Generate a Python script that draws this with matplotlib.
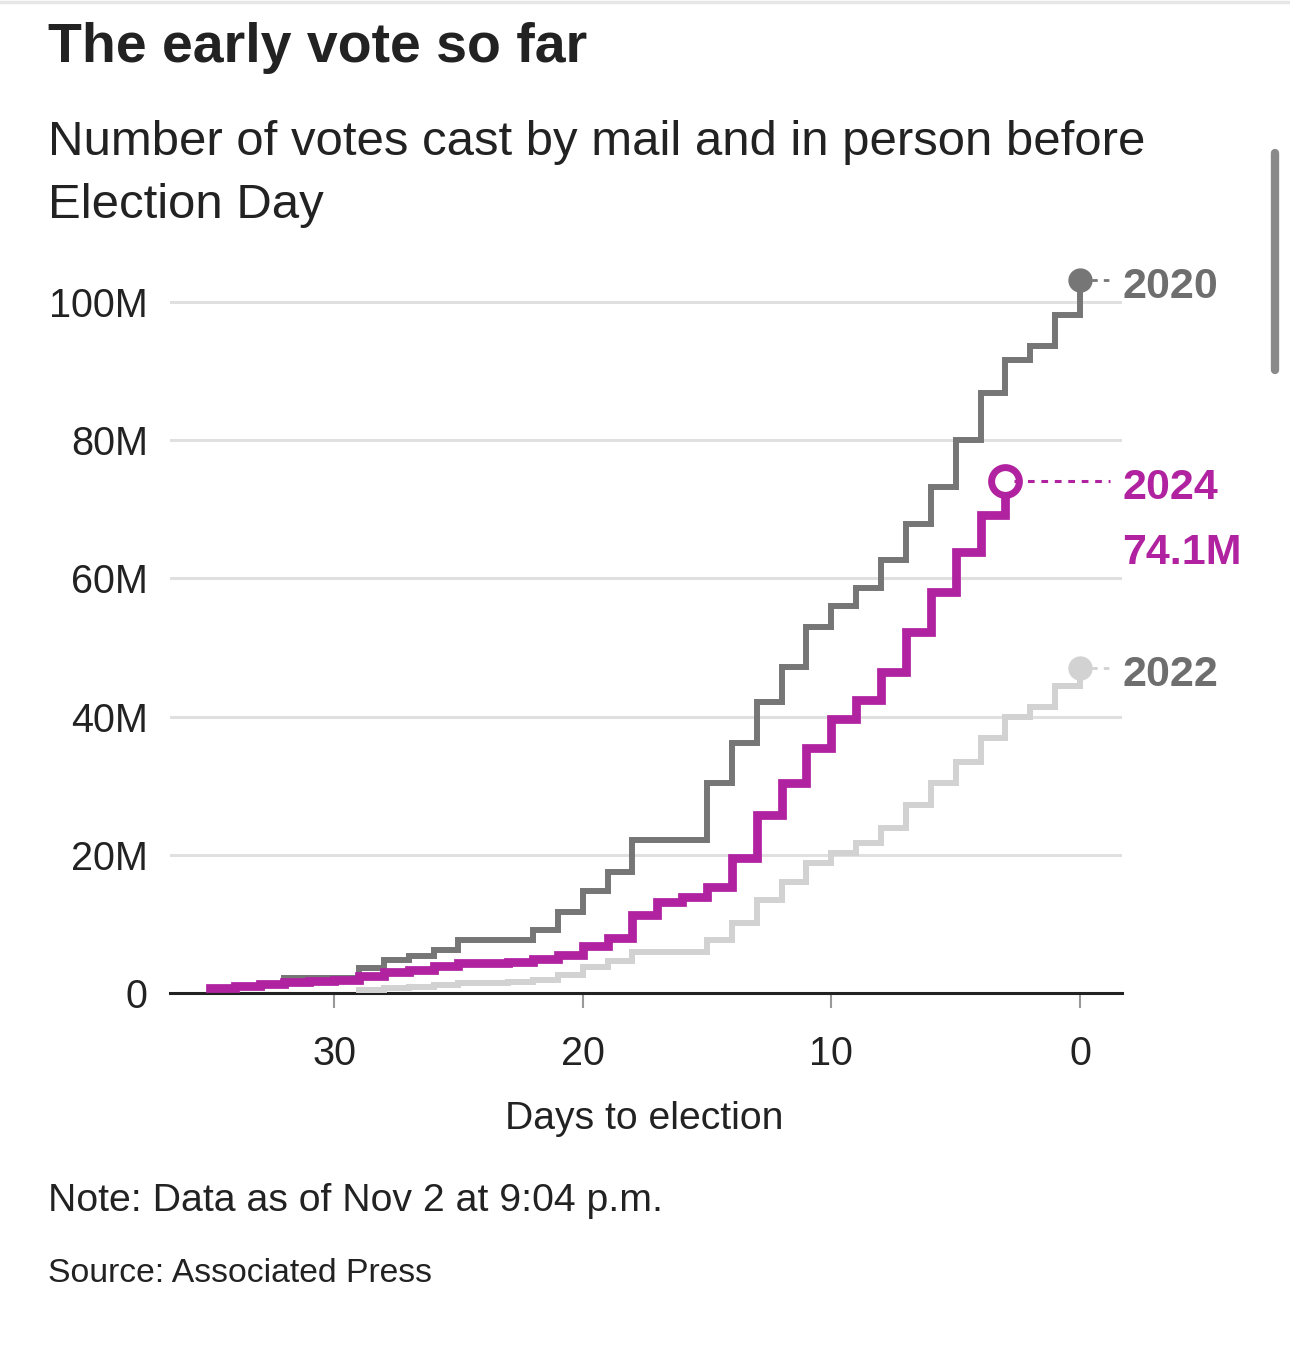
import matplotlib.pyplot as plt
from matplotlib.lines import Line2D

# --- data (millions of votes, by days to election) ---
days_2020 = list(range(32, -1, -1))
votes_2020 = [2.2, 2.2, 2.2, 3.6, 4.8, 5.4, 6.2, 7.7, 7.7, 7.7, 9.1, 11.7, 14.7,
              17.5, 22.1, 22.1, 22.1, 30.4, 36.2, 42.1, 47.2, 53.0, 56.0, 58.6,
              62.7, 67.9, 73.2, 80.0, 86.8, 91.6, 93.6, 98.1, 103.2]

days_2024 = list(range(35, 2, -1))
votes_2024 = [0.7, 1.0, 1.3, 1.6, 1.7, 1.9, 2.5, 3.0, 3.4, 3.9, 4.3, 4.4, 4.5,
              4.9, 5.5, 6.8, 8.0, 11.3, 13.2, 13.9, 15.3, 19.5, 25.8, 30.4,
              35.5, 39.6, 42.4, 46.5, 52.2, 58.0, 63.8, 69.2, 74.1]

days_2022 = list(range(29, -1, -1))
votes_2022 = [0.5, 0.7, 0.9, 1.1, 1.4, 1.5, 1.6, 1.9, 2.6, 3.8, 4.6, 5.9, 5.9,
              5.9, 7.7, 10.1, 13.5, 16.1, 18.8, 20.3, 21.7, 23.9, 27.2, 30.4,
              33.4, 36.9, 40.0, 41.4, 44.4, 47.0]

y_ticks = [0, 20, 40, 60, 80, 100]
y_tick_labels = ['0', '20M', '40M', '60M', '80M', '100M']
x_ticks = [30, 20, 10, 0]

C2020 = '#767676'
C2024 = '#b0229f'
C2022 = '#d2d2d2'
LABEL_GRAY = '#6e6e6e'
TEXT = '#222222'

plt.rcParams['font.family'] = ['Liberation Sans', 'DejaVu Sans']

W, H = 1290, 1346
fig = plt.figure(figsize=(W / 100, H / 100), dpi=100)
ax = fig.add_axes([170 / W, 1 - 993 / H, (1122 - 170) / W, (993 - 267.5) / H])

ax.step(days_2022, votes_2022, where='post', color=C2022, lw=4.3, zorder=3,
        solid_joinstyle='miter')
ax.step(days_2020, votes_2020, where='post', color=C2020, lw=4.3, zorder=4,
        solid_joinstyle='miter')
ax.step(days_2024, votes_2024, where='post', color=C2024, lw=6.3, zorder=5,
        solid_joinstyle='miter')

# end markers and connectors
x_conn = -1.2
ax.plot([days_2020[-1], x_conn], [votes_2020[-1]] * 2, color=C2020, lw=2,
        ls=(0, (2, 2.2)), zorder=3, clip_on=False)
ax.plot([days_2022[-1], x_conn], [votes_2022[-1]] * 2, color=C2022, lw=2,
        ls=(0, (2, 2.2)), zorder=2, clip_on=False)
ax.plot(days_2020[-1], votes_2020[-1], 'o', ms=16.5, color=C2020, zorder=6, clip_on=False)
ax.plot(days_2022[-1], votes_2022[-1], 'o', ms=16.5, color=C2022, zorder=6, clip_on=False)
ax.plot(days_2024[-1], votes_2024[-1], 'o', ms=20, mfc='white', mec=C2024,
        mew=5, zorder=7, clip_on=False)
ax.plot([days_2024[-1] - 0.35, x_conn], [votes_2024[-1]] * 2, color=C2024, lw=2.2,
        ls=(0, (2.2, 2.2)), zorder=8, clip_on=False)

lx = -1.69
off = 1.0  # labels sit slightly below their markers
ax.text(lx, votes_2020[-1] - off, '2020', color=LABEL_GRAY, fontsize=31,
        fontweight='bold', va='center', ha='left', clip_on=False)
ax.text(lx, votes_2024[-1] - off, '2024', color=C2024, fontsize=31,
        fontweight='bold', va='center', ha='left', clip_on=False)
ax.text(lx, votes_2024[-1] - off - 9.4, '74.1M', color=C2024, fontsize=31,
        fontweight='bold', va='center', ha='left', clip_on=False)
ax.text(lx, votes_2022[-1] - off, '2022', color=LABEL_GRAY, fontsize=31,
        fontweight='bold', va='center', ha='left', clip_on=False)

ax.set_xlim(36.6, -1.69)
ax.set_ylim(0, 105)
ax.set_yticks(y_ticks)
ax.set_yticklabels(y_tick_labels)
ax.set_xticks(x_ticks)
ax.set_xticklabels([str(t) for t in x_ticks])
ax.tick_params(axis='y', length=0, pad=16, labelsize=28.5, labelcolor=TEXT)
ax.tick_params(axis='x', length=11, width=1.5, color='#999999', pad=19.5,
               labelsize=28.5, labelcolor=TEXT)
ax.grid(axis='y', color='#e0e0e0', lw=2.2, zorder=0)
ax.set_axisbelow(True)
for s in ['top', 'right', 'left']:
    ax.spines[s].set_visible(False)
ax.spines['bottom'].set_color(TEXT)
ax.spines['bottom'].set_linewidth(2.2)
ax.spines['bottom'].set_zorder(2.5)

# titles and notes
fig.text(48 / W, 1 - 62 / H, 'The early vote so far', fontsize=40, fontweight='bold',
         color=TEXT, va='baseline', ha='left')
fig.text(48 / W, 1 - 155 / H, 'Number of votes cast by mail and in person before',
         fontsize=35.4, color=TEXT, va='baseline', ha='left')
fig.text(48 / W, 1 - 218 / H, 'Election Day', fontsize=35.4, color=TEXT,
         va='baseline', ha='left')
fig.text(644 / W, 1 - 1129 / H, 'Days to election', fontsize=28.2, color=TEXT,
         va='baseline', ha='center')
fig.text(48 / W, 1 - 1211 / H, 'Note: Data as of Nov 2 at 9:04 p.m.', fontsize=28.3,
         color=TEXT, va='baseline', ha='left')
fig.text(48 / W, 1 - 1282 / H, 'Source: Associated Press', fontsize=24.3,
         color=TEXT, va='baseline', ha='left')

# page chrome from the screenshot
fig.add_artist(Line2D([0, 1], [1 - 1.5 / H] * 2, color='#e6e6e6', lw=2.5,
                      transform=fig.transFigure))
fig.add_artist(Line2D([1275 / W] * 2, [1 - 153 / H, 1 - 370 / H], color='#8a8a8a',
                      lw=6, solid_capstyle='round', transform=fig.transFigure))

fig.savefig('out.png', dpi=100, facecolor='white')
